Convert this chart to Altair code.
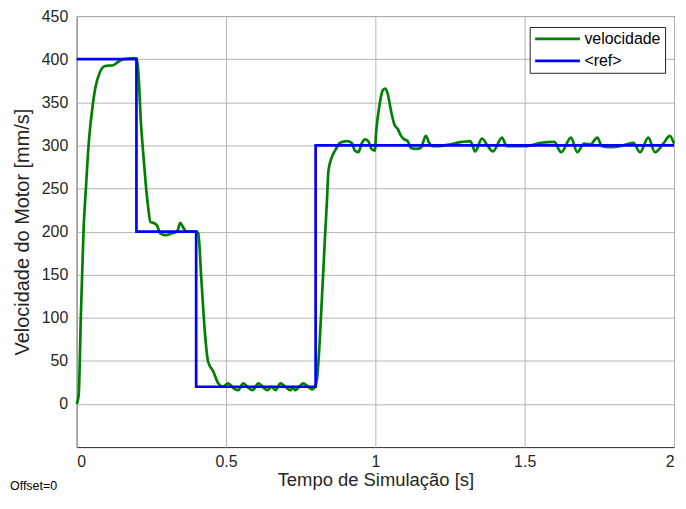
import altair as alt
import pandas as pd

# --- data ---
t_vel = [0.000, 0.0066, 0.014, 0.023, 0.031, 0.040, 0.051, 0.062, 0.078, 0.095,
         0.122, 0.139, 0.156, 0.194, 0.200, 0.209, 0.214, 0.222, 0.231, 0.239,
         0.247, 0.258, 0.269, 0.280, 0.297, 0.319, 0.336, 0.347, 0.358, 0.369,
         0.385, 0.400, 0.407, 0.418, 0.429, 0.440, 0.457, 0.474, 0.490, 0.507,
         0.523, 0.540, 0.558, 0.574, 0.589, 0.609, 0.625, 0.639, 0.652, 0.666,
         0.682, 0.699, 0.715, 0.724, 0.732, 0.745, 0.758, 0.775, 0.788, 0.798,
         0.805, 0.821, 0.832, 0.838, 0.843, 0.854, 0.865, 0.882, 0.904, 0.921,
         0.931, 0.943, 0.954, 0.965, 0.976, 0.987, 0.998, 1.003, 1.014, 1.025,
         1.034, 1.042, 1.053, 1.064, 1.075, 1.086, 1.097, 1.108, 1.119, 1.136,
         1.152, 1.169, 1.180, 1.191, 1.213, 1.246, 1.290, 1.318, 1.334, 1.357,
         1.375, 1.394, 1.424, 1.440, 1.500, 1.555, 1.599, 1.622, 1.655, 1.676,
         1.699, 1.720, 1.743, 1.759, 1.787, 1.820, 1.864, 1.886, 1.914, 1.936,
         1.964, 1.986, 2.000]
v_vel = [0, 10, 102, 202, 251, 301, 339, 366, 385, 392,
         393, 397, 400, 401, 401, 370, 332, 294, 256, 229,
         211, 210, 207, 198, 196, 198, 200, 210, 204, 200,
         200, 200, 198, 141, 84, 49, 38, 24, 20, 24,
         19, 16, 24, 19, 16, 24, 19, 16, 20, 16,
         24, 20, 16, 19, 16, 20, 24, 20, 17, 20,
         30, 122, 198, 236, 271, 286, 294, 303, 305, 303,
         294, 292, 302, 307, 305, 296, 294, 317, 347, 364,
         366, 359, 339, 324, 319, 311, 307, 305, 297, 296,
         297, 311, 303, 299, 299, 301, 304, 305, 293, 308,
         300, 293, 309, 299, 299, 303, 304, 292, 309, 292,
         302, 301, 309, 299, 298, 299, 303, 292, 309, 292,
         302, 311, 302]

t_ref = [0.0, 0.2, 0.4, 0.8, 2.0]
v_ref = [400, 200, 20, 300, 300]

series_names = ["velocidade", "<ref>"]
series_colors = ["#008000", "#0000ff"]

x_ticks = [0, 0.5, 1, 1.5, 2]
y_ticks = [0, 50, 100, 150, 200, 250, 300, 350, 400, 450]

FONT = "Liberation Sans"
TXT = "#262626"

vel_df = pd.DataFrame({"t": t_vel, "v": v_vel, "serie": series_names[0]})
ref_df = pd.DataFrame({"t": t_ref, "v": v_ref, "serie": series_names[1]})

color = alt.Color(
    "serie:N",
    scale=alt.Scale(domain=series_names, range=series_colors),
    legend=alt.Legend(
        title=None, orient="none", legendX=455, legendY=11,
        symbolType="stroke", symbolSize=2025, symbolStrokeWidth=2.7,
        clipHeight=16, labelFontSize=16, labelFont=FONT, labelColor="#000000",
        padding=4, rowPadding=6, labelOffset=3, labelLimit=300,
        strokeColor=TXT, fillColor="white",
    ),
)

x = alt.X("t:Q", scale=alt.Scale(domain=[0, 2], nice=False),
          axis=alt.Axis(values=x_ticks, format="~g", title="Tempo de Simulação [s]"))
y = alt.Y("v:Q", scale=alt.Scale(domain=[-50, 450], nice=False),
          axis=alt.Axis(values=y_ticks, format="d", title="Velocidade do Motor [mm/s]"))

vel = alt.Chart(vel_df).mark_line(strokeWidth=2.7, interpolate="monotone").encode(
    x=x, y=y, color=color)
ref = alt.Chart(ref_df).mark_line(strokeWidth=2.7, interpolate="step-after").encode(
    x=x, y=y, color=color)

note = alt.Chart(pd.DataFrame({"txt": ["Offset=0"]})).mark_text(
    align="left", baseline="alphabetic", fontSize=12.5, font=FONT, color="#000000"
).encode(x=alt.value(-67), y=alt.value(476), text="txt:N")

chart = alt.layer(vel, ref, note).properties(
    width=600, height=433,
    autosize=alt.AutoSizeParams(type="none"),
    padding={"left": 69, "top": 7, "right": 4, "bottom": 45},
).configure_view(stroke=TXT, strokeWidth=1).configure_axis(
    grid=True, gridColor="#b4b4b4", gridWidth=1, domain=False, ticks=False,
    labelFont=FONT, labelFontSize=16, labelColor=TXT,
    titleFont=FONT, titleColor=TXT, titleFontWeight="normal",
).configure_axisX(labelPadding=6, titlePadding=2, titleFontSize=18.5).configure_axisY(
    labelPadding=9, titlePadding=9, titleFontSize=20)

chart.save("out.html", embed_options={"renderer": "svg", "actions": False})
